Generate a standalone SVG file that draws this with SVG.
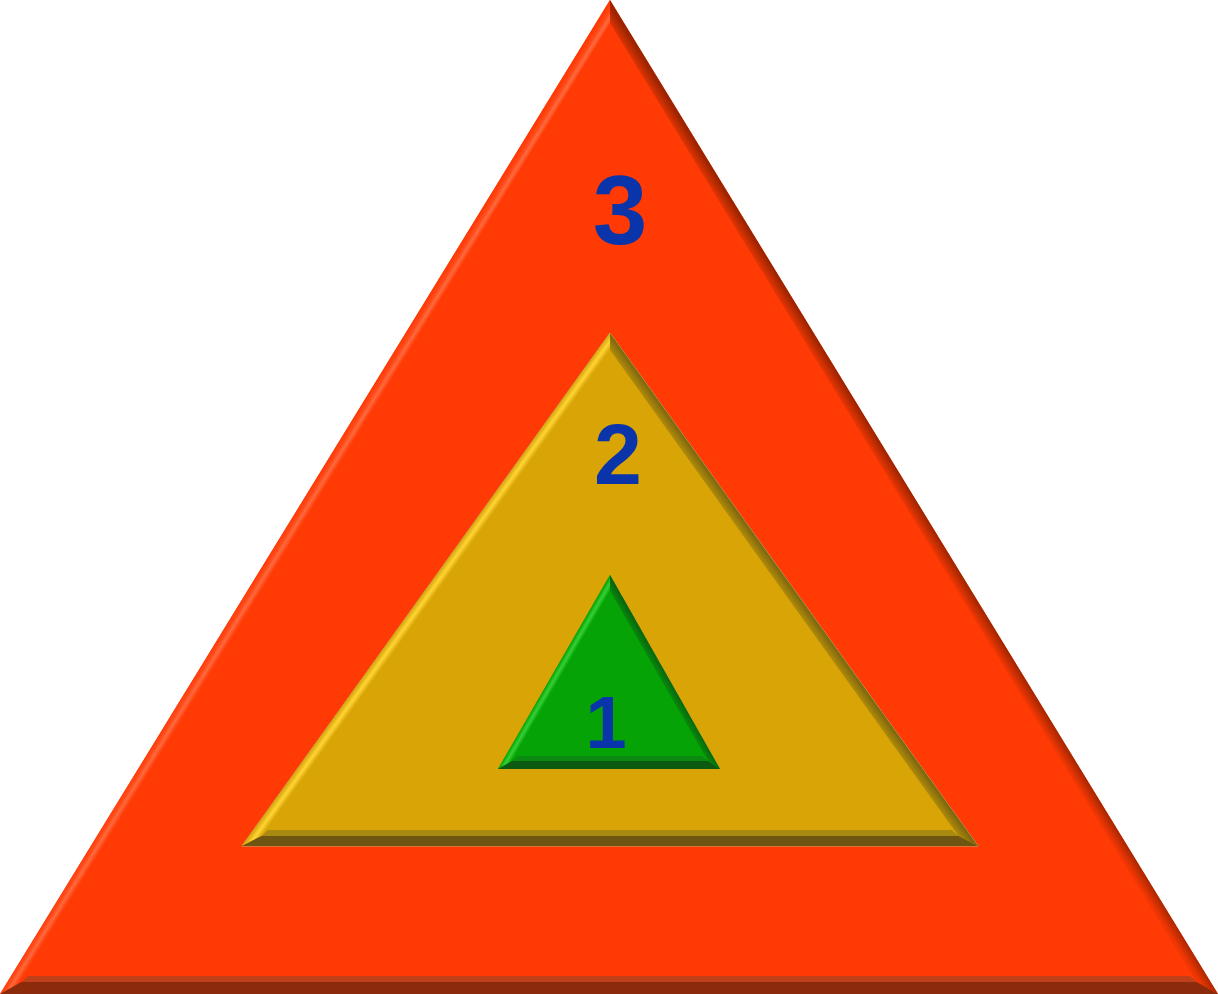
<svg xmlns="http://www.w3.org/2000/svg" width="1218" height="994" viewBox="0 0 1218 994">
<defs>
<linearGradient id="r3" gradientUnits="userSpaceOnUse" x1="905.6" y1="506.3" x2="915.8" y2="500">
<stop offset="0" stop-color="#F03604"/>
<stop offset="0.5" stop-color="#C42E02"/>
<stop offset="1" stop-color="#9C2400"/>
</linearGradient>
<linearGradient id="l3" gradientUnits="userSpaceOnUse" x1="303.2" y1="500" x2="313.4" y2="506.3">
<stop offset="0" stop-color="#FF3A04"/>
<stop offset="0.35" stop-color="#FF4A1A"/>
<stop offset="0.6" stop-color="#FF6A3C"/>
<stop offset="0.85" stop-color="#FF4A1A"/>
<stop offset="1" stop-color="#FF3A04"/>
</linearGradient>
<linearGradient id="r2" gradientUnits="userSpaceOnUse" x1="793.4" y1="605.8" x2="801.5" y2="600">
<stop offset="0" stop-color="#B08A0A"/>
<stop offset="1" stop-color="#7A640E"/>
</linearGradient>
<linearGradient id="l2" gradientUnits="userSpaceOnUse" x1="418.5" y1="600" x2="426.6" y2="605.8">
<stop offset="0" stop-color="#D9A406"/>
<stop offset="0.5" stop-color="#FFD535"/>
<stop offset="1" stop-color="#D9A406"/>
</linearGradient>
<linearGradient id="r1" gradientUnits="userSpaceOnUse" x1="675.3" y1="704" x2="682.2" y2="700">
<stop offset="0" stop-color="#078A0A"/>
<stop offset="1" stop-color="#0A6010"/>
</linearGradient>
<linearGradient id="l1" gradientUnits="userSpaceOnUse" x1="537.8" y1="700" x2="544.7" y2="704">
<stop offset="0" stop-color="#05A305"/>
<stop offset="0.5" stop-color="#35D035"/>
<stop offset="1" stop-color="#05A305"/>
</linearGradient>
</defs>
<style>
text{font-family:Arial,"Liberation Sans",sans-serif;font-weight:700;fill:#0A35AA;text-anchor:middle}
</style>
<rect width="1218" height="994" fill="#FFFFFF"/>
<g id="tri3">
<polygon points="610,0 0,994 1218,994" fill="#FF3A04"/>
<polygon points="610,0 610,23 21.5,982 0,994" fill="url(#l3)"/>
<polygon points="610,0 610,23 1196.6,982 1218,994" fill="url(#r3)"/>
<polygon points="0,994 21.5,982 1196.6,982 1218,994" fill="#8C2A0C"/>
<polygon points="21.5,982 1196.6,982 1190,976 28,976" fill="#C0401A"/>
<text x="620" y="244" font-size="98">3</text>
</g>
<g id="tri2">
<polygon points="610,333 242,846 978,846" fill="#D9A406" stroke="#B8B070" stroke-width="1"/>
<polygon points="610,333 610,350 261.5,836 242,846" fill="url(#l2)"/>
<polygon points="610,333 610,350 958.5,836 978,846" fill="url(#r2)"/>
<polygon points="242,846 261.5,836 958.5,836 978,846" fill="#6E5512"/>
<polygon points="261.5,836 958.5,836 952,830 268,830" fill="#A88A10"/>
<text x="618" y="484" font-size="86">2</text>
</g>
<g id="tri1">
<polygon points="610,575 498,769 720,769" fill="#05A305"/>
<polygon points="610,575 610,591 512,761 498,769" fill="url(#l1)"/>
<polygon points="610,575 610,591 708,761 720,769" fill="url(#r1)"/>
<polygon points="498,769 512,761 708,761 720,769" fill="#0C5A12"/>
<polygon points="512,761 708,761 702,756 518,756" fill="#0A8A10"/>
<text x="606" y="748" font-size="74">1</text>
</g>
<g id="connectors"/>
</svg>
